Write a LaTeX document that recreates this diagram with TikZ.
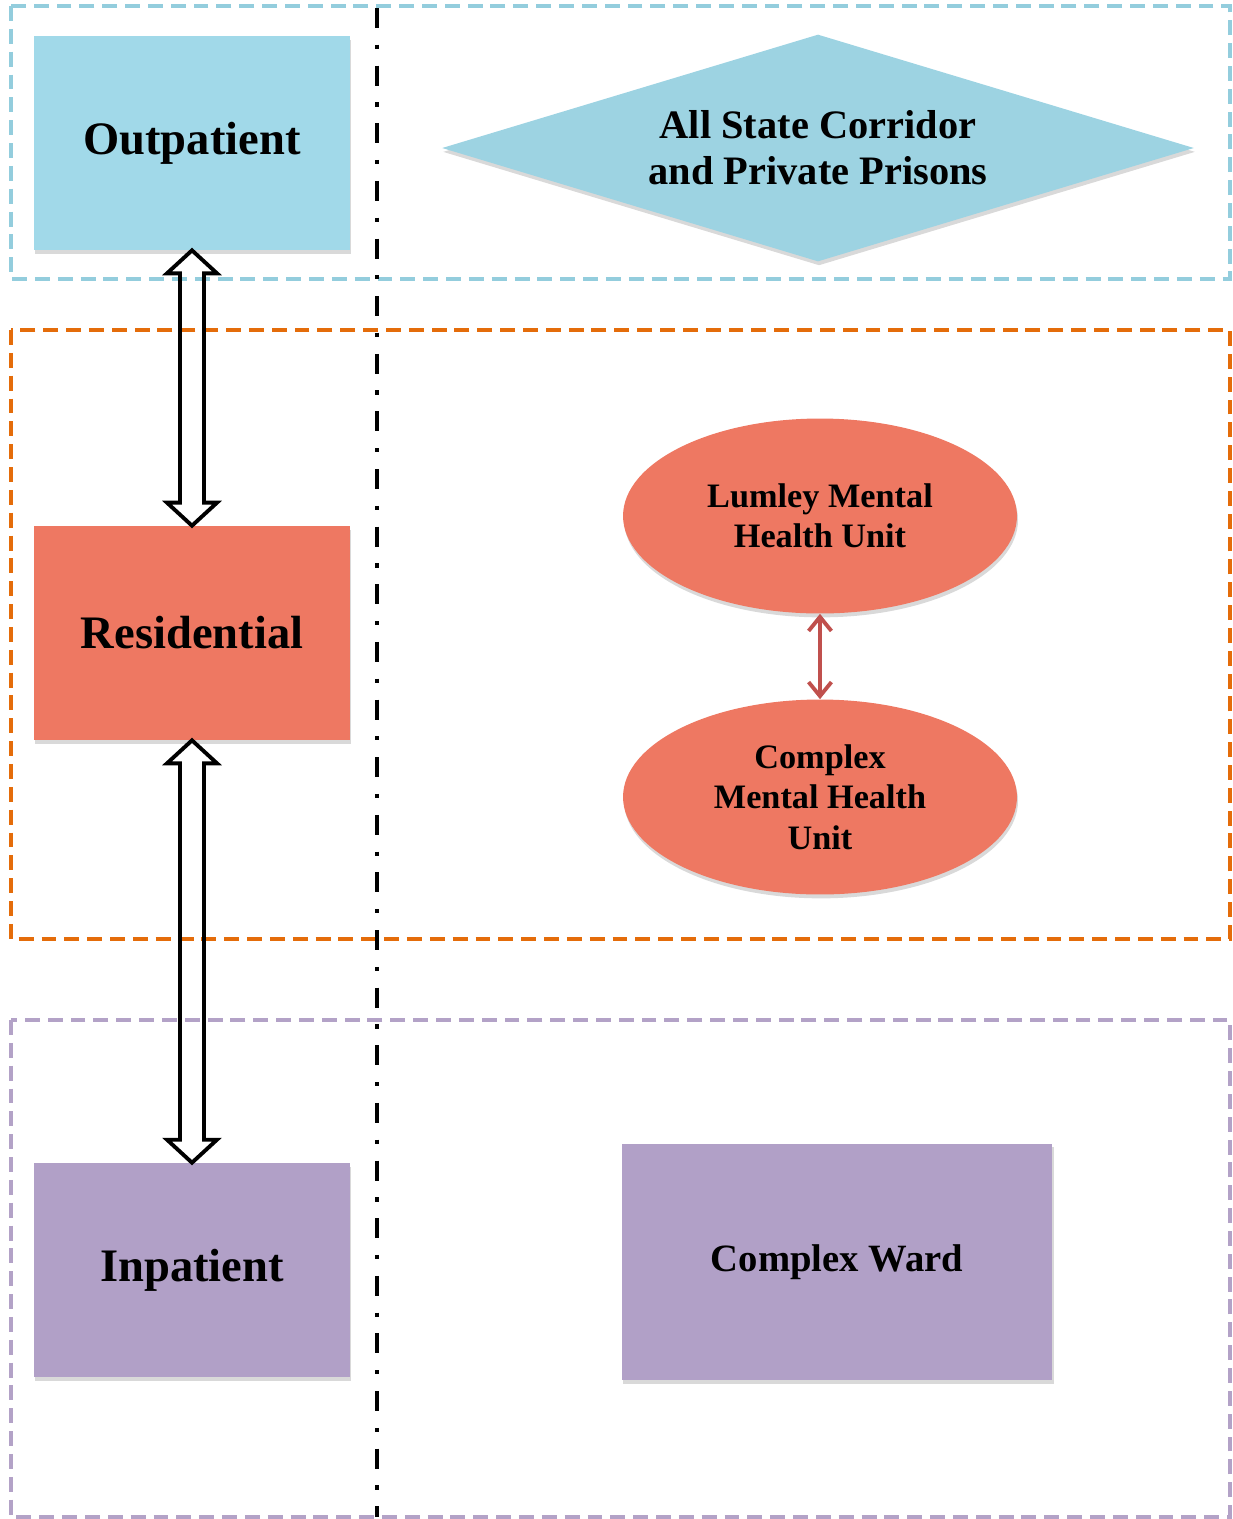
\documentclass[tikz,border=0pt]{standalone}
\usepackage{fontspec}
\setmainfont{Liberation Serif}
\usepackage{tikz}
\usetikzlibrary{shapes.geometric, shadows, arrows.meta, calc}

\definecolor{outfill}{HTML}{A1D9E9}
\definecolor{prisonfill}{HTML}{9DD3E2}
\definecolor{resfill}{HTML}{EE7862}
\definecolor{infill}{HTML}{B1A0C7}
\definecolor{bluedash}{HTML}{93CDDD}
\definecolor{orangedash}{HTML}{E46C0A}
\definecolor{purpledash}{HTML}{B3A2C7}
\definecolor{linkred}{HTML}{C0504D}

\tikzset{
    zone/.style={line width=2.2pt, dash pattern=on 8.5pt off 4.5pt},
    divider/.style={line width=2.5pt, dash pattern=on 11.4pt off 9.5pt on 2.4pt off 9.5pt},
    softshadow/.style={drop shadow={shadow xshift=0.6pt, shadow yshift=-2.2pt, opacity=0.3}},
    level/.style={rectangle, softshadow, minimum width=6.32cm, minimum height=4.28cm,
        font=\bfseries\fontsize{26.5}{30}\selectfont},
    prison/.style={diamond, aspect=3.3, inner sep=0pt, softshadow, fill=prisonfill,
        minimum width=15.04cm, minimum height=4.54cm, align=center,
        font=\bfseries\fontsize{23}{26}\selectfont},
    unit/.style={ellipse, softshadow, fill=resfill, minimum width=7.88cm, minimum height=3.9cm,
        align=center, font=\bfseries\fontsize{19.5}{23}\selectfont},
    ward/.style={rectangle, softshadow, fill=infill, minimum width=8.62cm, minimum height=4.74cm,
        font=\bfseries\fontsize{22}{26}\selectfont},
    hollowarrow/.style={draw=black, line width=2.2pt, line join=miter},
    link/.style={draw=linkred, line width=2.2pt, {Straight Barb[length=8pt, width=13pt]}-{Straight Barb[length=8pt, width=13pt]}}
}

\begin{document}
\begin{tikzpicture}[x=0.02cm, y=-0.02cm]
    \useasboundingbox (0, 0) rectangle (1233, 1519);

    % care levels
    \draw[zone, bluedash] (11, 6) rectangle (1230, 279);
    \draw[zone, orangedash] (11, 330) rectangle (1230, 939);
    \draw[zone, purpledash] (11, 1020) rectangle (1230, 1517);

    \draw[divider] (377, 8) -- (377, 1517);

    \node[level, fill=outfill] (out) at (192, 143) {Outpatient};
    \node[level, fill=resfill] (res) at (192, 633) {Residential};
    \node[level, fill=infill] (inp) at (192, 1270) {Inpatient};

    % facilities
    \node[prison] (prisons) at (818, 148) {All State Corridor\\and Private Prisons};
    \node[unit] (lumley) at (820, 516) {Lumley Mental\\Health Unit};
    \node[unit] (cmhu) at (820, 797) {Complex\\Mental Health\\Unit};
    \node[ward] (cward) at (837, 1262) {Complex Ward};

    \draw[link] (lumley.south) -- (cmhu.north);

    % hollow double arrows
    \draw[hollowarrow] (out.south) -- ++(25, 23) -- ++(-13, 0) -- ($(res.north) + (12, -23)$)
        -- ++(13, 0) -- (res.north) -- ++(-25, -23) -- ++(13, 0) -- ($(out.south) + (-12, 23)$)
        -- ++(-13, 0) -- cycle;
    \draw[hollowarrow] (res.south) -- ++(25, 23) -- ++(-13, 0) -- ($(inp.north) + (12, -23)$)
        -- ++(13, 0) -- (inp.north) -- ++(-25, -23) -- ++(13, 0) -- ($(res.south) + (-12, 23)$)
        -- ++(-13, 0) -- cycle;
\end{tikzpicture}
\end{document}
